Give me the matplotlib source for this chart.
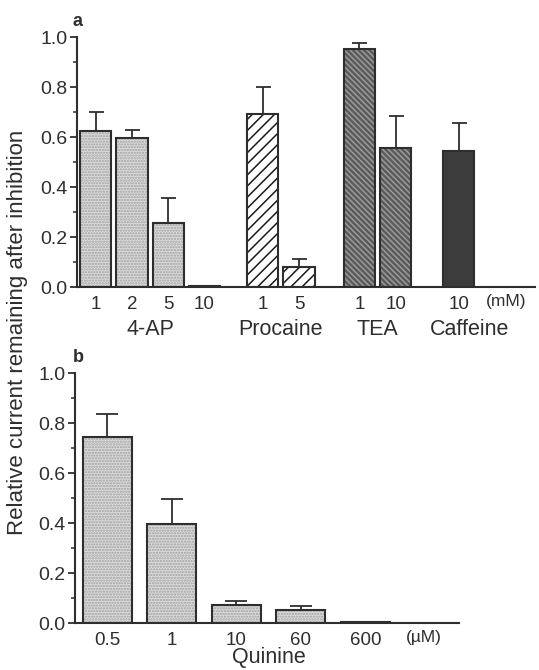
import numpy as np
import matplotlib
matplotlib.use("Agg")
import matplotlib.pyplot as plt

plt.rcParams["font.family"] = ["Liberation Sans", "DejaVu Sans"]
plt.rcParams["hatch.linewidth"] = 1.1

INK = "#2e2e2e"

# panel a: blockers in mM
ap_doses = ["1", "2", "5", "10"]
ap_mean = [0.627, 0.596, 0.256, 0.006]
ap_err = [0.076, 0.033, 0.100, 0.0]

procaine_doses = ["1", "5"]
procaine_mean = [0.692, 0.083]
procaine_err = [0.111, 0.032]

tea_doses = ["1", "10"]
tea_mean = [0.952, 0.559]
tea_err = [0.027, 0.126]

caffeine_doses = ["10"]
caffeine_mean = [0.547]
caffeine_err = [0.109]

group_names = ["4-AP", "Procaine", "TEA", "Caffeine"]

# panel b: quinine in uM
quinine_doses = ["0.5", "1", "10", "60", "600"]
quinine_mean = [0.744, 0.396, 0.073, 0.053, 0.006]
quinine_err = [0.092, 0.100, 0.016, 0.016, 0.0]


def draw_bars(ax, x, vals, errs, width, face, hatch, hatch_color, capsize):
    ax.bar(x, vals, width, color=face, hatch=hatch, edgecolor=hatch_color,
           linewidth=0, zorder=2)
    ax.bar(x, vals, width, fill=False, edgecolor=INK, linewidth=1.5, zorder=3)
    errs = np.asarray(errs)
    keep = errs > 0
    if keep.any():
        xs = np.asarray(x)[keep]
        ys = np.asarray(vals)[keep]
        ax.errorbar(xs, ys, yerr=[np.zeros(keep.sum()), errs[keep]], fmt="none",
                    ecolor=INK, elinewidth=1.3, capsize=capsize, capthick=1.3,
                    zorder=1)


def style_axis(ax):
    for s in ("top", "right"):
        ax.spines[s].set_visible(False)
    for s in ("left", "bottom"):
        ax.spines[s].set_linewidth(1.5)
        ax.spines[s].set_color(INK)
    ax.set_ylim(0, 1.0)
    ax.set_yticks(np.arange(0, 1.01, 0.2))
    ax.set_yticks(np.arange(0.1, 1.0, 0.2), minor=True)
    ax.set_yticklabels([f"{v:.1f}" for v in np.arange(0, 1.01, 0.2)])
    ax.tick_params(axis="y", which="major", length=5, width=1.3, color=INK,
                   labelsize=14, labelcolor=INK, pad=2)
    ax.tick_params(axis="y", which="minor", length=3, width=1.1, color=INK)
    ax.tick_params(axis="x", length=0, labelsize=13.5, labelcolor=INK, pad=6)


fig = plt.figure(figsize=(5.39, 6.70), dpi=100)

stipple = dict(face="#dcdcdc", hatch="......", hatch_color="#a0a0a0")

# ---- panel a ----
ax1 = fig.add_axes([0.1429, 0.5712, 0.850, 0.373])
groups = [
    (ap_mean, ap_err, ap_doses, 0.0, stipple),
    (procaine_mean, procaine_err, procaine_doses, 4.6,
     dict(face="white", hatch="///", hatch_color="#1a1a1a")),
    (tea_mean, tea_err, tea_doses, 7.26,
     dict(face="#5a5a5a", hatch="\\\\\\\\\\\\", hatch_color="#9a9a9a")),
    (caffeine_mean, caffeine_err, caffeine_doses, 10.0,
     dict(face="#3c3c3c", hatch=None, hatch_color="#3c3c3c")),
]
tick_pos, tick_lab, centers = [], [], []
for vals, errs, doses, start, st in groups:
    x = start + np.arange(len(vals))
    draw_bars(ax1, x, vals, errs, 0.86, st["face"], st["hatch"],
              st["hatch_color"], 5.4)
    tick_pos += list(x)
    tick_lab += doses
    centers.append(x.mean())
style_axis(ax1)
ax1.set_xlim(-0.51, 12.1)
ax1.set_xticks(tick_pos)
ax1.set_xticklabels(tick_lab)
ax1.text(centers[-1] + 0.75, -0.058, "(mM)", ha="left", va="center",
         fontsize=12.5, color=INK, clip_on=False)
centers[-1] += 0.3
for cx, name in zip(centers, group_names):
    ax1.text(cx, -0.17, name, ha="center", va="center", fontsize=15.5,
             color=INK, clip_on=False)
ax1.text(-0.5, 1.065, "a", ha="center", va="center", fontsize=13,
         fontweight="bold", color=INK)

# ---- panel b ----
ax2 = fig.add_axes([0.1391, 0.0697, 0.7124, 0.373])
xq = np.arange(len(quinine_mean))
draw_bars(ax2, xq, quinine_mean, quinine_err, 0.76, stipple["face"],
          stipple["hatch"], stipple["hatch_color"], 7.7)
style_axis(ax2)
ax2.set_xlim(-0.504, 5.45)
ax2.set_xticks(xq)
ax2.set_xticklabels(quinine_doses)
ax2.text(4.9, -0.058, "(\u00b5M)", ha="center", va="center", fontsize=12.5,
         color=INK, clip_on=False)
ax2.text(2.5, -0.135, "Quinine", ha="center", va="center", fontsize=15.5,
         color=INK, clip_on=False)
ax2.text(-0.45, 1.065, "b", ha="center", va="center", fontsize=13,
         fontweight="bold", color=INK)

fig.text(0.033, 0.504, "Relative current remaining after inhibition",
         rotation=90, ha="center", va="center", fontsize=16, color=INK)

fig.savefig("out.png", dpi=100)
